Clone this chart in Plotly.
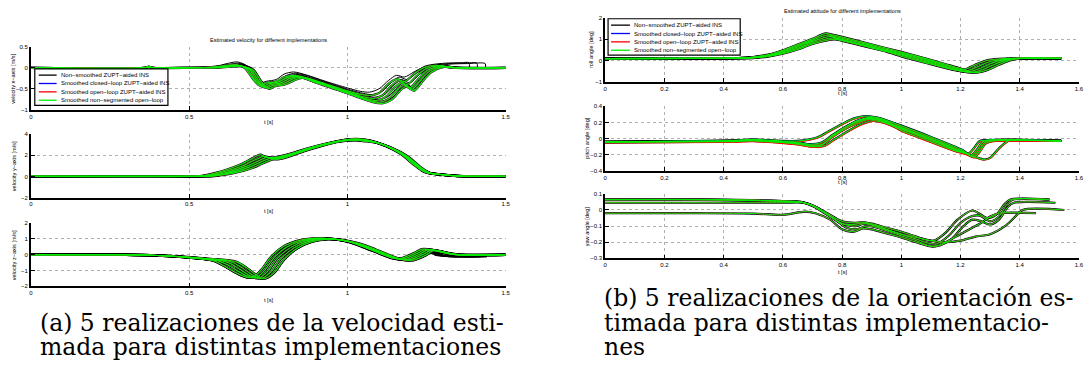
import plotly.graph_objects as go

W, H = 1087, 374

# ---------------- data ----------------
SERIES_NAMES = ["Non\u2212smoothed ZUPT\u2212aided INS",
                "Smoothed closed\u2212loop ZUPT\u2212aided INS",
                "Smoothed open\u2212loop ZUPT\u2212aided INS",
                "Smoothed non\u2212segmented open\u2212loop"]
SERIES_COLORS = ["#000000", "#0000ff", "#ff0000", "#00ee00"]

T_TICKS_A = [0, 0.5, 1, 1.5]
T_TICKS_B = [0, 0.2, 0.4, 0.6, 0.8, 1, 1.2, 1.4, 1.6]
VX_TICKS = [-1, -0.5, 0, 0.5]
VY_TICKS = [-2, 0, 2, 4]
VZ_TICKS = [-2, -1, 0, 1, 2]
ROLL_TICKS = [-1, 0, 1, 2]
PITCH_TICKS = [-0.4, -0.2, 0, 0.2, 0.4]
YAW_TICKS = [-0.3, -0.2, -0.1, 0, 0.1]

# velocity x-axis, smoothed (green / blue / red) realizations
vx_s_t = [
    [0, 0.36, 0.372, 0.385, 0.5, 0.58, 0.62, 0.65, 0.675, 0.70, 0.722, 0.745, 0.775, 0.80, 0.83, 0.87, 0.93, 1.0, 1.04, 1.07, 1.10, 1.13, 1.155, 1.18, 1.21, 1.24, 1.28, 1.33, 1.5],
    [0, 0.36, 0.372, 0.385, 0.5, 0.585, 0.625, 0.655, 0.682, 0.707, 0.73, 0.752, 0.782, 0.808, 0.837, 0.877, 0.94, 1.01, 1.05, 1.08, 1.11, 1.14, 1.163, 1.188, 1.218, 1.247, 1.287, 1.335, 1.5],
    [0, 0.36, 0.372, 0.385, 0.5, 0.59, 0.63, 0.66, 0.689, 0.714, 0.737, 0.759, 0.789, 0.816, 0.844, 0.884, 0.95, 1.02, 1.06, 1.09, 1.12, 1.15, 1.171, 1.196, 1.226, 1.254, 1.294, 1.34, 1.5],
    [0, 0.36, 0.372, 0.385, 0.5, 0.595, 0.635, 0.665, 0.696, 0.721, 0.744, 0.766, 0.796, 0.824, 0.851, 0.891, 0.96, 1.03, 1.07, 1.10, 1.13, 1.16, 1.18, 1.203, 1.233, 1.26, 1.30, 1.345, 1.5],
    [0, 0.36, 0.372, 0.385, 0.5, 0.60, 0.64, 0.67, 0.703, 0.728, 0.751, 0.773, 0.803, 0.832, 0.858, 0.898, 0.97, 1.04, 1.08, 1.11, 1.14, 1.17, 1.19, 1.21, 1.24, 1.266, 1.306, 1.35, 1.5],
]
vx_s_v = [
    [0, 0, 0.03, 0, 0, 0.02, 0.06, 0.07, 0.0, -0.25, -0.42, -0.36, -0.33, -0.22, -0.18, -0.24, -0.38, -0.55, -0.63, -0.66, -0.6, -0.38, -0.27, -0.33, -0.15, 0.0, 0.06, 0.0, 0],
    [0, 0, 0.02, 0, 0, 0.02, 0.05, 0.06, -0.02, -0.28, -0.45, -0.38, -0.34, -0.24, -0.2, -0.27, -0.42, -0.6, -0.69, -0.73, -0.66, -0.42, -0.31, -0.4, -0.2, -0.03, 0.05, 0.0, 0],
    [0, 0, 0.02, 0, 0, 0.01, 0.04, 0.05, -0.03, -0.3, -0.47, -0.4, -0.36, -0.26, -0.21, -0.3, -0.46, -0.64, -0.74, -0.78, -0.7, -0.46, -0.36, -0.48, -0.25, -0.06, 0.04, 0.0, 0],
    [0, 0, 0.02, 0, 0, 0.01, 0.03, 0.04, -0.05, -0.32, -0.48, -0.42, -0.38, -0.28, -0.22, -0.32, -0.5, -0.68, -0.78, -0.82, -0.74, -0.5, -0.41, -0.52, -0.28, -0.08, 0.03, 0.0, 0],
    [0, 0, 0.02, 0, 0, 0.01, 0.03, 0.03, -0.06, -0.33, -0.5, -0.44, -0.4, -0.3, -0.24, -0.35, -0.53, -0.72, -0.82, -0.85, -0.76, -0.52, -0.43, -0.55, -0.3, -0.1, 0.02, 0.0, 0],
]
# velocity x-axis, non-smoothed (black)
vx_k_t = [
    [0, 0.36, 0.372, 0.385, 0.5, 0.58, 0.62, 0.65, 0.675, 0.70, 0.722, 0.745, 0.775, 0.80, 0.83, 0.87, 0.93, 1.0, 1.04, 1.07, 1.10, 1.13, 1.155, 1.18, 1.21, 1.235, 1.245, 1.27, 1.31, 1.36, 1.384, 1.385],
    [0, 0.36, 0.372, 0.385, 0.5, 0.585, 0.625, 0.655, 0.682, 0.707, 0.73, 0.752, 0.782, 0.808, 0.837, 0.877, 0.94, 1.01, 1.05, 1.08, 1.11, 1.14, 1.163, 1.188, 1.218, 1.242, 1.252, 1.28, 1.32, 1.37, 1.409, 1.41],
    [0, 0.36, 0.372, 0.385, 0.5, 0.59, 0.63, 0.66, 0.689, 0.714, 0.737, 0.759, 0.789, 0.816, 0.844, 0.884, 0.95, 1.02, 1.06, 1.09, 1.12, 1.15, 1.171, 1.196, 1.226, 1.25, 1.26, 1.29, 1.33, 1.38, 1.435, 1.436],
    [0, 0.36, 0.372, 0.385, 0.5, 0.595, 0.635, 0.665, 0.696, 0.721, 0.744, 0.766, 0.796, 0.824, 0.851, 0.891, 0.96, 1.03, 1.07, 1.10, 1.13, 1.16, 1.18, 1.203, 1.233, 1.26, 1.30, 1.345, 1.5],
    [0, 0.36, 0.372, 0.385, 0.5, 0.60, 0.64, 0.67, 0.703, 0.728, 0.751, 0.773, 0.803, 0.832, 0.858, 0.898, 0.97, 1.04, 1.08, 1.11, 1.14, 1.17, 1.19, 1.21, 1.24, 1.266, 1.306, 1.35, 1.5],
]
vx_k_v = [
    [0, 0, 0.03, 0, 0, 0.03, 0.1, 0.14, 0.08, -0.15, -0.36, -0.32, -0.28, -0.15, -0.1, -0.17, -0.32, -0.48, -0.56, -0.58, -0.5, -0.3, -0.18, -0.22, -0.1, 0.0, 0.04, 0.08, 0.11, 0.12, 0.12, 0],
    [0, 0, 0.02, 0, 0, 0.03, 0.08, 0.11, 0.05, -0.2, -0.4, -0.35, -0.31, -0.18, -0.13, -0.2, -0.36, -0.53, -0.61, -0.64, -0.56, -0.34, -0.22, -0.28, -0.13, -0.02, 0.03, 0.07, 0.1, 0.11, 0.11, 0],
    [0, 0, 0.02, 0, 0, 0.02, 0.06, 0.09, 0.02, -0.24, -0.43, -0.37, -0.33, -0.21, -0.16, -0.24, -0.4, -0.58, -0.67, -0.7, -0.62, -0.39, -0.28, -0.36, -0.17, -0.04, 0.02, 0.06, 0.09, 0.1, 0.1, 0],
    [0, 0, 0.02, 0, 0, 0.02, 0.05, 0.07, 0.0, -0.27, -0.45, -0.39, -0.35, -0.24, -0.19, -0.28, -0.45, -0.63, -0.73, -0.76, -0.68, -0.45, -0.36, -0.46, -0.22, -0.04, 0.05, 0.02, 0],
    [0, 0, 0.02, 0, 0, 0.02, 0.04, 0.05, -0.02, -0.3, -0.47, -0.41, -0.37, -0.27, -0.21, -0.31, -0.49, -0.67, -0.77, -0.8, -0.72, -0.48, -0.39, -0.5, -0.26, -0.07, 0.04, 0.01, 0],
]

# velocity y-axis (all implementations nearly coincide)
vy_t = [
    [0, 0.5, 0.54, 0.58, 0.62, 0.66, 0.69, 0.715, 0.725, 0.745, 0.77, 0.82, 0.88, 0.94, 1.0, 1.03, 1.07, 1.12, 1.17, 1.21, 1.235, 1.25, 1.29, 1.34, 1.5],
    [0, 0.5, 0.55, 0.59, 0.63, 0.67, 0.70, 0.725, 0.735, 0.755, 0.78, 0.83, 0.89, 0.95, 1.0, 1.035, 1.075, 1.125, 1.175, 1.215, 1.24, 1.255, 1.295, 1.345, 1.5],
    [0, 0.5, 0.56, 0.60, 0.64, 0.68, 0.71, 0.735, 0.745, 0.765, 0.79, 0.84, 0.90, 0.96, 1.01, 1.04, 1.08, 1.13, 1.18, 1.22, 1.245, 1.26, 1.30, 1.35, 1.5],
    [0, 0.5, 0.57, 0.61, 0.65, 0.69, 0.72, 0.745, 0.755, 0.772, 0.795, 0.85, 0.91, 0.97, 1.02, 1.045, 1.085, 1.135, 1.185, 1.225, 1.25, 1.265, 1.305, 1.355, 1.5],
    [0, 0.5, 0.58, 0.62, 0.66, 0.70, 0.73, 0.755, 0.765, 0.78, 0.80, 0.86, 0.92, 0.98, 1.03, 1.05, 1.09, 1.14, 1.19, 1.23, 1.255, 1.27, 1.31, 1.36, 1.5],
]
vy_v = [
    [0, 0, 0.05, 0.3, 0.65, 1.1, 1.55, 1.95, 2.05, 1.8, 1.8, 2.15, 2.7, 3.15, 3.5, 3.55, 3.4, 2.9, 2.1, 1.1, 0.55, 0.35, 0.2, 0.05, 0],
    [0, 0, 0.05, 0.28, 0.6, 1.0, 1.45, 1.8, 1.9, 1.75, 1.78, 2.2, 2.75, 3.2, 3.48, 3.5, 3.35, 2.85, 2.05, 1.05, 0.5, 0.32, 0.18, 0.04, 0],
    [0, 0, 0.05, 0.25, 0.55, 0.95, 1.35, 1.7, 1.8, 1.72, 1.78, 2.25, 2.8, 3.25, 3.47, 3.45, 3.3, 2.8, 2.0, 1.0, 0.48, 0.3, 0.16, 0.04, 0],
    [0, 0, 0.04, 0.22, 0.5, 0.88, 1.28, 1.6, 1.7, 1.68, 1.76, 2.3, 2.85, 3.3, 3.45, 3.4, 3.25, 2.75, 1.95, 0.95, 0.45, 0.28, 0.15, 0.03, 0],
    [0, 0, 0.04, 0.2, 0.45, 0.8, 1.2, 1.52, 1.62, 1.62, 1.74, 2.35, 2.9, 3.32, 3.42, 3.35, 3.2, 2.7, 1.9, 0.9, 0.42, 0.26, 0.14, 0.03, 0],
]

# velocity z-axis, smoothed
vz_s_t = [
    [0, 0.3, 0.4, 0.5, 0.55, 0.58, 0.61, 0.64, 0.67, 0.69, 0.705, 0.73, 0.76, 0.8, 0.85, 0.9, 0.95, 1.0, 1.05, 1.1, 1.14, 1.17, 1.21, 1.235, 1.27, 1.3, 1.34, 1.5],
    [0, 0.3, 0.4, 0.5, 0.55, 0.59, 0.62, 0.65, 0.68, 0.70, 0.714, 0.74, 0.77, 0.81, 0.86, 0.91, 0.96, 1.01, 1.06, 1.11, 1.15, 1.18, 1.22, 1.244, 1.278, 1.308, 1.345, 1.5],
    [0, 0.3, 0.4, 0.5, 0.55, 0.6, 0.63, 0.66, 0.69, 0.71, 0.723, 0.75, 0.78, 0.82, 0.87, 0.92, 0.97, 1.02, 1.07, 1.12, 1.16, 1.19, 1.23, 1.253, 1.286, 1.316, 1.35, 1.5],
    [0, 0.3, 0.4, 0.5, 0.55, 0.61, 0.64, 0.67, 0.70, 0.72, 0.732, 0.76, 0.79, 0.83, 0.88, 0.93, 0.98, 1.03, 1.08, 1.13, 1.17, 1.2, 1.24, 1.262, 1.294, 1.324, 1.355, 1.5],
    [0, 0.3, 0.4, 0.5, 0.55, 0.62, 0.65, 0.68, 0.71, 0.73, 0.741, 0.77, 0.80, 0.84, 0.89, 0.94, 0.99, 1.04, 1.09, 1.14, 1.18, 1.21, 1.25, 1.27, 1.3, 1.33, 1.36, 1.5],
]
vz_s_v = [
    [0, 0, -0.05, -0.18, -0.28, -0.4, -0.7, -1.05, -1.35, -1.45, -1.4, -0.9, -0.1, 0.55, 0.92, 1.05, 1.0, 0.85, 0.5, 0.1, -0.2, -0.22, 0.1, 0.35, 0.3, 0.15, 0.0, 0],
    [0, 0, -0.05, -0.18, -0.27, -0.38, -0.62, -0.98, -1.32, -1.45, -1.42, -0.95, -0.15, 0.5, 0.9, 1.03, 0.98, 0.8, 0.45, 0.05, -0.23, -0.25, 0.08, 0.32, 0.28, 0.12, 0.0, 0],
    [0, 0, -0.05, -0.17, -0.26, -0.36, -0.55, -0.92, -1.3, -1.47, -1.45, -1.0, -0.2, 0.45, 0.88, 1.02, 0.96, 0.75, 0.4, 0.0, -0.27, -0.28, 0.05, 0.3, 0.25, 0.1, 0.0, 0],
    [0, 0, -0.05, -0.16, -0.25, -0.35, -0.5, -0.86, -1.28, -1.48, -1.47, -1.05, -0.25, 0.42, 0.86, 1.0, 0.94, 0.72, 0.36, -0.04, -0.3, -0.3, 0.03, 0.27, 0.22, 0.08, 0.0, 0],
    [0, 0, -0.05, -0.15, -0.24, -0.34, -0.45, -0.8, -1.25, -1.5, -1.5, -1.1, -0.3, 0.4, 0.84, 0.98, 0.92, 0.7, 0.33, -0.08, -0.33, -0.33, 0.0, 0.25, 0.2, 0.06, 0.0, 0],
]
# velocity z-axis, non-smoothed (black) with jagged tail
vz_k_t = [
    [0, 0.3, 0.4, 0.5, 0.55, 0.58, 0.61, 0.64, 0.67, 0.69, 0.705, 0.73, 0.76, 0.8, 0.85, 0.9, 0.95, 1.0, 1.05, 1.1, 1.14, 1.17, 1.21, 1.235, 1.245, 1.252, 1.26, 1.268, 1.276, 1.29, 1.32, 1.36, 1.40],
    [0, 0.3, 0.4, 0.5, 0.55, 0.59, 0.62, 0.65, 0.68, 0.70, 0.714, 0.74, 0.77, 0.81, 0.86, 0.91, 0.96, 1.01, 1.06, 1.11, 1.15, 1.18, 1.22, 1.244, 1.254, 1.261, 1.269, 1.277, 1.285, 1.3, 1.33, 1.37, 1.41],
    [0, 0.3, 0.4, 0.5, 0.55, 0.6, 0.63, 0.66, 0.69, 0.71, 0.723, 0.75, 0.78, 0.82, 0.87, 0.92, 0.97, 1.02, 1.07, 1.12, 1.16, 1.19, 1.23, 1.253, 1.263, 1.27, 1.278, 1.286, 1.294, 1.31, 1.34, 1.38, 1.42],
    [0, 0.3, 0.4, 0.5, 0.55, 0.61, 0.64, 0.67, 0.70, 0.72, 0.732, 0.76, 0.79, 0.83, 0.88, 0.93, 0.98, 1.03, 1.08, 1.13, 1.17, 1.2, 1.24, 1.262, 1.272, 1.279, 1.287, 1.295, 1.303, 1.32, 1.35, 1.39, 1.43],
    [0, 0.3, 0.4, 0.5, 0.55, 0.62, 0.65, 0.68, 0.71, 0.73, 0.741, 0.77, 0.80, 0.84, 0.89, 0.94, 0.99, 1.04, 1.09, 1.14, 1.18, 1.21, 1.25, 1.27, 1.28, 1.287, 1.295, 1.303, 1.311, 1.33, 1.36, 1.4, 1.44],
]
vz_k_v = [
    [0, 0, -0.05, -0.19, -0.3, -0.42, -0.72, -1.08, -1.38, -1.48, -1.43, -0.95, -0.15, 0.5, 0.9, 1.04, 0.98, 0.8, 0.45, 0.05, -0.25, -0.26, 0.05, 0.3, 0.12, 0.28, 0.08, 0.22, 0.0, -0.05, -0.1, -0.12, -0.12],
    [0, 0, -0.05, -0.19, -0.29, -0.4, -0.64, -1.0, -1.35, -1.48, -1.45, -1.0, -0.2, 0.45, 0.88, 1.02, 0.96, 0.76, 0.4, 0.0, -0.28, -0.29, 0.03, 0.28, 0.1, 0.25, 0.06, 0.2, -0.02, -0.06, -0.1, -0.11, -0.11],
    [0, 0, -0.05, -0.18, -0.28, -0.38, -0.57, -0.95, -1.33, -1.5, -1.48, -1.05, -0.25, 0.4, 0.85, 1.0, 0.94, 0.72, 0.36, -0.04, -0.31, -0.31, 0.0, 0.26, 0.08, 0.23, 0.04, 0.18, -0.03, -0.07, -0.11, -0.12, -0.12],
    [0, 0, -0.05, -0.17, -0.27, -0.37, -0.52, -0.89, -1.31, -1.5, -1.49, -1.1, -0.3, 0.38, 0.83, 0.98, 0.92, 0.69, 0.32, -0.08, -0.33, -0.33, -0.02, 0.24, 0.06, 0.2, 0.02, 0.15, -0.04, -0.08, -0.1, -0.11, -0.11],
    [0, 0, -0.05, -0.16, -0.26, -0.36, -0.47, -0.83, -1.28, -1.52, -1.52, -1.15, -0.35, 0.36, 0.81, 0.96, 0.9, 0.67, 0.3, -0.12, -0.36, -0.36, -0.04, 0.22, 0.05, 0.18, 0.0, 0.12, -0.05, -0.09, -0.11, -0.12, -0.12],
]

# roll angle [deg]
roll_t = [
    [0, 0.3, 0.45, 0.5, 0.55, 0.6, 0.65, 0.7, 0.745, 0.77, 0.85, 0.92, 1.0, 1.08, 1.15, 1.19, 1.215, 1.25, 1.29, 1.33, 1.37, 1.54],
    [0, 0.3, 0.45, 0.5, 0.55, 0.6, 0.65, 0.7, 0.752, 0.775, 0.855, 0.925, 1.0, 1.08, 1.155, 1.2, 1.225, 1.26, 1.30, 1.34, 1.38, 1.54],
    [0, 0.3, 0.45, 0.5, 0.55, 0.6, 0.65, 0.7, 0.76, 0.78, 0.86, 0.93, 1.0, 1.08, 1.16, 1.21, 1.235, 1.27, 1.31, 1.35, 1.39, 1.54],
    [0, 0.3, 0.45, 0.5, 0.55, 0.6, 0.65, 0.7, 0.768, 0.79, 0.87, 0.94, 1.0, 1.08, 1.17, 1.22, 1.245, 1.28, 1.32, 1.36, 1.40, 1.54],
    [0, 0.3, 0.45, 0.5, 0.55, 0.6, 0.65, 0.7, 0.775, 0.80, 0.88, 0.95, 1.0, 1.08, 1.18, 1.235, 1.26, 1.29, 1.33, 1.37, 1.41, 1.54],
]
roll_v = [
    [0.09, 0.1, 0.11, 0.16, 0.27, 0.48, 0.75, 1.02, 1.27, 1.2, 0.93, 0.68, 0.4, 0.1, -0.18, -0.34, -0.42, -0.2, 0.0, 0.07, 0.1, 0.1],
    [0.09, 0.1, 0.11, 0.15, 0.25, 0.44, 0.7, 0.96, 1.2, 1.13, 0.86, 0.61, 0.35, 0.05, -0.25, -0.42, -0.47, -0.28, -0.05, 0.05, 0.1, 0.1],
    [0.09, 0.1, 0.11, 0.14, 0.23, 0.4, 0.64, 0.9, 1.13, 1.06, 0.79, 0.54, 0.3, 0.0, -0.32, -0.5, -0.51, -0.35, -0.1, 0.04, 0.1, 0.1],
    [0.09, 0.1, 0.11, 0.13, 0.21, 0.36, 0.58, 0.84, 1.06, 0.99, 0.72, 0.48, 0.26, -0.05, -0.4, -0.54, -0.55, -0.4, -0.15, 0.03, 0.1, 0.1],
    [0.09, 0.1, 0.11, 0.12, 0.19, 0.32, 0.52, 0.78, 1.0, 0.93, 0.66, 0.42, 0.2, -0.1, -0.45, -0.56, -0.56, -0.45, -0.2, 0.02, 0.1, 0.1],
]

# pitch angle [deg]
pitch_t = [
    [0, 0.4, 0.5, 0.55, 0.6, 0.65, 0.69, 0.72, 0.76, 0.8, 0.84, 0.88, 0.92, 0.97, 1.0, 1.1, 1.18, 1.21, 1.225, 1.245, 1.265, 1.29, 1.54],
    [0, 0.4, 0.5, 0.55, 0.6, 0.65, 0.69, 0.73, 0.77, 0.81, 0.85, 0.89, 0.93, 0.97, 1.0, 1.1, 1.18, 1.215, 1.235, 1.255, 1.275, 1.3, 1.54],
    [0, 0.4, 0.5, 0.55, 0.6, 0.65, 0.69, 0.73, 0.76, 0.8, 0.85, 0.895, 0.94, 0.98, 1.0, 1.1, 1.18, 1.22, 1.24, 1.26, 1.28, 1.3, 1.54],
    [0, 0.4, 0.5, 0.55, 0.6, 0.65, 0.7, 0.74, 0.77, 0.81, 0.86, 0.9, 0.94, 0.98, 1.0, 1.1, 1.18, 1.22, 1.245, 1.265, 1.285, 1.31, 1.54],
    [0, 0.4, 0.5, 0.55, 0.6, 0.65, 0.7, 0.735, 0.765, 0.8, 0.85, 0.89, 0.93, 0.97, 1.0, 1.1, 1.18, 1.22, 1.25, 1.28, 1.3, 1.33, 1.36, 1.38, 1.54],
]
pitch_green_v = [
    [-0.04, -0.03, -0.01, -0.02, -0.03, -0.03, -0.01, 0.02, 0.1, 0.18, 0.25, 0.28, 0.26, 0.2, 0.16, 0.02, -0.1, -0.15, -0.19, -0.12, -0.03, -0.02, -0.03],
    [-0.04, -0.03, -0.02, -0.03, -0.04, -0.05, -0.07, -0.05, 0.05, 0.14, 0.22, 0.26, 0.24, 0.18, 0.14, 0.0, -0.12, -0.17, -0.21, -0.14, -0.04, -0.02, -0.03],
    [-0.04, -0.03, -0.02, -0.03, -0.05, -0.06, -0.09, -0.08, 0.0, 0.1, 0.19, 0.24, 0.21, 0.15, 0.12, -0.02, -0.14, -0.18, -0.22, -0.15, -0.05, -0.02, -0.03],
    [-0.05, -0.04, -0.03, -0.04, -0.05, -0.07, -0.1, -0.09, -0.02, 0.07, 0.17, 0.22, 0.2, 0.14, 0.1, -0.04, -0.15, -0.19, -0.23, -0.16, -0.06, -0.03, -0.03],
    [-0.04, -0.03, -0.02, -0.03, -0.04, -0.05, -0.08, -0.07, 0.02, 0.12, 0.21, 0.25, 0.23, 0.17, 0.13, -0.01, -0.13, -0.19, -0.23, -0.26, -0.24, -0.12, -0.03, -0.02, -0.03],
]
pitch_red_v = [
    [-0.045, -0.04, -0.025, -0.03, -0.04, -0.04, -0.02, 0.01, 0.09, 0.17, 0.24, 0.27, 0.25, 0.19, 0.15, 0.01, -0.11, -0.16, -0.2, -0.13, -0.04, -0.03, -0.035],
    [-0.045, -0.04, -0.03, -0.04, -0.05, -0.06, -0.08, -0.06, 0.04, 0.13, 0.21, 0.25, 0.23, 0.17, 0.13, -0.01, -0.13, -0.18, -0.22, -0.15, -0.05, -0.03, -0.035],
    [-0.045, -0.04, -0.03, -0.04, -0.06, -0.07, -0.1, -0.09, -0.01, 0.09, 0.18, 0.23, 0.2, 0.14, 0.11, -0.03, -0.15, -0.19, -0.23, -0.16, -0.06, -0.03, -0.035],
    [-0.055, -0.05, -0.04, -0.05, -0.06, -0.08, -0.11, -0.1, -0.03, 0.06, 0.16, 0.21, 0.19, 0.13, 0.09, -0.05, -0.16, -0.2, -0.24, -0.17, -0.07, -0.04, -0.035],
    [-0.045, -0.04, -0.03, -0.04, -0.05, -0.06, -0.09, -0.08, 0.01, 0.11, 0.2, 0.24, 0.22, 0.16, 0.12, -0.02, -0.14, -0.2, -0.24, -0.265, -0.245, -0.13, -0.04, -0.03, -0.035],
]

# yaw angle [deg]
yaw_t = [
    [0, 0.3, 0.5, 0.6, 0.66, 0.7, 0.75, 0.8, 0.84, 0.87, 0.9, 0.95, 1.0, 1.05, 1.08, 1.11, 1.15, 1.19, 1.24, 1.27, 1.29, 1.32, 1.35, 1.37, 1.5],
    [0, 0.3, 0.5, 0.6, 0.665, 0.71, 0.76, 0.81, 0.845, 0.875, 0.905, 0.955, 1.0, 1.05, 1.09, 1.12, 1.16, 1.2, 1.235, 1.265, 1.3, 1.33, 1.355, 1.375, 1.5],
    [0, 0.3, 0.5, 0.6, 0.67, 0.72, 0.77, 0.815, 0.85, 0.88, 0.91, 0.96, 1.0, 1.05, 1.1, 1.13, 1.17, 1.21, 1.24, 1.27, 1.3, 1.33, 1.36, 1.38, 1.52],
    [0, 0.3, 0.5, 0.6, 0.675, 0.71, 0.76, 0.8, 0.84, 0.87, 0.9, 0.95, 1.0, 1.05, 1.1, 1.125, 1.16, 1.2, 1.24, 1.27, 1.3, 1.33, 1.455],
    [0, 0.3, 0.5, 0.6, 0.66, 0.7, 0.75, 0.8, 0.84, 0.87, 0.9, 0.95, 1.0, 1.05, 1.1, 1.14, 1.2, 1.25, 1.3, 1.35, 1.38, 1.41, 1.55],
]
yaw_v = [
    [0.066, 0.066, 0.062, 0.056, 0.05, 0.03, -0.02, -0.07, -0.08, -0.075, -0.085, -0.11, -0.135, -0.165, -0.185, -0.19, -0.14, -0.06, -0.003, -0.03, -0.05, -0.03, 0.04, 0.066, 0.066],
    [0.063, 0.063, 0.058, 0.052, 0.048, 0.02, -0.04, -0.09, -0.1, -0.085, -0.095, -0.125, -0.15, -0.18, -0.205, -0.21, -0.16, -0.08, -0.04, -0.035, -0.07, -0.04, 0.03, 0.063, 0.063],
    [0.045, 0.045, 0.045, 0.045, 0.045, 0.01, -0.05, -0.11, -0.12, -0.1, -0.105, -0.135, -0.16, -0.19, -0.225, -0.22, -0.18, -0.1, -0.06, -0.07, -0.09, -0.06, 0.02, 0.045, 0.045],
    [-0.02, -0.02, -0.022, -0.03, -0.01, -0.02, -0.06, -0.12, -0.135, -0.115, -0.12, -0.145, -0.17, -0.2, -0.225, -0.22, -0.19, -0.15, -0.11, -0.08, -0.04, -0.02, -0.02],
    [0.064, 0.064, 0.06, 0.055, 0.05, 0.025, -0.03, -0.085, -0.09, -0.08, -0.09, -0.12, -0.15, -0.17, -0.19, -0.2, -0.19, -0.165, -0.15, -0.1, -0.05, 0.0, 0.0],
]

# ---------------- figure ----------------
fig = go.Figure()


def px_x(p):
    return p / W


def px_y(p):
    return 1 - p / H


def add_family(xa, ya, ts, vs, color, width):
    for t, v in zip(ts, vs):
        fig.add_trace(go.Scatter(
            x=t, y=v, mode="lines", xaxis=xa, yaxis=ya, showlegend=False,
            hoverinfo="skip",
            line=dict(color=color, width=width, shape="spline", smoothing=0.8)))


K, B, R, G = SERIES_COLORS
# (a) velocity
add_family("x", "y", vx_s_t, vx_s_v, "#303030", 2.2)
add_family("x", "y", vx_k_t, vx_k_v, K, 1.0)
add_family("x", "y", vx_s_t, vx_s_v, B, 1.0)
add_family("x", "y", vx_s_t, vx_s_v, R, 1.0)
add_family("x", "y", vx_s_t, vx_s_v, G, 1.1)

add_family("x2", "y2", vy_t, vy_v, K, 2.4)
add_family("x2", "y2", vy_t, vy_v, B, 1.0)
add_family("x2", "y2", vy_t, vy_v, R, 1.0)
add_family("x2", "y2", vy_t, vy_v, G, 1.1)

add_family("x3", "y3", vz_k_t, vz_k_v, K, 1.6)
add_family("x3", "y3", vz_s_t, vz_s_v, K, 2.4)
add_family("x3", "y3", vz_s_t, vz_s_v, B, 1.0)
add_family("x3", "y3", vz_s_t, vz_s_v, R, 1.0)
add_family("x3", "y3", vz_s_t, vz_s_v, G, 1.1)

# (b) attitude
add_family("x4", "y4", roll_t, roll_v, K, 2.4)
add_family("x4", "y4", roll_t, roll_v, B, 1.0)
add_family("x4", "y4", roll_t, roll_v, R, 1.0)
add_family("x4", "y4", roll_t, roll_v, G, 1.1)

add_family("x5", "y5", pitch_t, pitch_green_v, K, 2.2)
add_family("x5", "y5", pitch_t, pitch_green_v, B, 1.0)
add_family("x5", "y5", pitch_t, pitch_red_v, R, 1.1)
add_family("x5", "y5", pitch_t, pitch_green_v, G, 1.1)

add_family("x6", "y6", yaw_t, yaw_v, K, 2.2)
add_family("x6", "y6", yaw_t, yaw_v, B, 1.0)
add_family("x6", "y6", yaw_t, yaw_v, R, 1.0)
add_family("x6", "y6", yaw_t, yaw_v, G, 1.0)

TICKFONT = dict(family="Liberation Sans", size=6, color="#000000")
GRIDC = "#b0b0b0"


def make_axis(dom, rng, tv, anchor):
    return dict(domain=dom, range=rng, tickvals=tv, anchor=anchor,
                showgrid=True, gridcolor=GRIDC, griddash="dot", gridwidth=1,
                showline=True, linecolor="#000000", linewidth=1.5,
                ticks="inside", ticklen=4, tickwidth=1.2, tickcolor="#000000",
                tickfont=TICKFONT, zeroline=False, fixedrange=True)


XA = [px_x(29), px_x(507)]
XB = [px_x(607), px_x(1084)]
fig.update_layout(
    width=W, height=H, margin=dict(l=0, r=0, t=0, b=0),
    paper_bgcolor="#ffffff", plot_bgcolor="#ffffff", showlegend=False,
    xaxis=make_axis(XA, [0, 1.5], T_TICKS_A, "y"),
    yaxis=make_axis([px_y(108.5), px_y(44.5)], [-1, 0.5], VX_TICKS, "x"),
    xaxis2=make_axis(XA, [0, 1.5], T_TICKS_A, "y2"),
    yaxis2=make_axis([px_y(197.7), px_y(133.3)], [-2, 4], VY_TICKS, "x2"),
    xaxis3=make_axis(XA, [0, 1.5], T_TICKS_A, "y3"),
    yaxis3=make_axis([px_y(288), px_y(223.7)], [-2, 2], VZ_TICKS, "x3"),
    xaxis4=make_axis(XB, [0, 1.6], T_TICKS_B, "y4"),
    yaxis4=make_axis([px_y(80), px_y(15.3)], [-1, 2], ROLL_TICKS, "x4"),
    xaxis5=make_axis(XB, [0, 1.6], T_TICKS_B, "y5"),
    yaxis5=make_axis([px_y(170.5), px_y(105)], [-0.4, 0.4], PITCH_TICKS, "x5"),
    xaxis6=make_axis(XB, [0, 1.6], T_TICKS_B, "y6"),
    yaxis6=make_axis([px_y(259.5), px_y(194)], [-0.3, 0.1], YAW_TICKS, "x6"),
)

SMALL = dict(family="Liberation Sans", size=5.6, color="#000000")
ann = []


def text(x, y, s, font, angle=0, xanchor="center"):
    ann.append(dict(x=px_x(x), y=px_y(y), xref="paper", yref="paper", text=s,
                    showarrow=False, font=font, textangle=angle,
                    xanchor=xanchor, yanchor="middle"))


# titles and axis labels
text(268, 38, "Estimated velocity for different implementations", SMALL)
text(845.5, 8, "Estimated attitude for different implementations", SMALL)
for y in (121, 211, 302):
    text(268, y, "t [s]", SMALL)
for y in (91, 182, 273):
    text(845.5, y, "t [s]", SMALL)
text(11.5, 76.5, "velocity x\u2212axis [m/s]", SMALL, -90)
text(11.5, 165.5, "velocity y\u2212axis [m/s]", SMALL, -90)
text(11.5, 256, "velocity z\u2212axis [m/s]", SMALL, -90)
text(593, 47.7, "roll angle [deg]", SMALL, -90)
text(589, 137.7, "pitch angle [deg]", SMALL, -90)
text(589, 226.8, "yaw angle [deg]", SMALL, -90)

# legends (boxes drawn in paper space)
shapes = []
LEGFONT = dict(family="Liberation Sans", size=6, color="#000000")


def legend(x0, x1, y0, y1, rows, lx0, lx1, tx):
    shapes.append(dict(type="rect", xref="paper", yref="paper",
                       x0=px_x(x0), x1=px_x(x1), y0=px_y(y1), y1=px_y(y0),
                       line=dict(color="#000000", width=1.2), fillcolor="#ffffff", layer="above"))
    for ry, name, col in zip(rows, SERIES_NAMES, SERIES_COLORS):
        shapes.append(dict(type="line", xref="paper", yref="paper",
                           x0=px_x(lx0), x1=px_x(lx1), y0=px_y(ry), y1=px_y(ry),
                           line=dict(color=col, width=1.3), layer="above"))
        text(tx, ry, name, LEGFONT, xanchor="left")


legend(33, 167, 67, 104, [73.3, 81.8, 90.3, 98.8], 37, 55, 57)
legend(610, 743, 16, 53, [22.5, 31, 39.5, 48], 613, 632, 634)

# captions
CAP = dict(family="DejaVu Serif", size=23.5, color="#000000")
text(36, 325, "(a) 5 realizaciones de la velocidad esti-", CAP, xanchor="left")
text(36, 350, "mada para distintas implementaciones", CAP, xanchor="left")
text(604, 300, "(b) 5 realizaciones de la orientación es-", CAP, xanchor="left")
text(604, 325, "timada para distintas implementacio-", CAP, xanchor="left")
text(604, 350, "nes", CAP, xanchor="left")

fig.update_layout(annotations=ann, shapes=shapes)
fig.write_html("out.html")
